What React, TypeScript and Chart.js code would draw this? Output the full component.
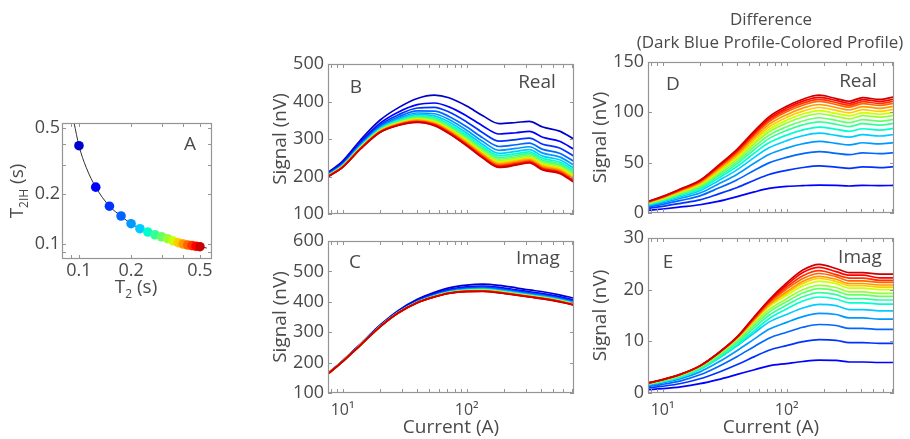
import React, { useEffect, useRef } from 'react';
import { Chart, registerables } from 'chart.js';
Chart.register(...registerables);

const W = 910;
const H = 439;
const FONT = '"Open Sans", "Liberation Sans", sans-serif';
const TEXT = '#4a4a4a';
const FRAME = '#959595';
const YTICK = 18;
const XTICK = 16;
const TITLE = 19;

// ---------- Panel A data ----------
const t2Points = [0.1, 0.125, 0.15, 0.175, 0.2, 0.225, 0.25, 0.275, 0.3, 0.325, 0.35, 0.375, 0.4, 0.425, 0.45, 0.475, 0.5];
const t2ihPoints = [0.391, 0.22, 0.169, 0.1475, 0.1325, 0.1236, 0.118, 0.1137, 0.1106, 0.1076, 0.1043, 0.1018, 0.1, 0.0986, 0.0977, 0.0969, 0.0963];
const t2Curve = [0.0936, 0.1, 0.11, 0.125, 0.15, 0.175, 0.2, 0.25, 0.3, 0.35, 0.4, 0.45, 0.5, 0.547];
const t2ihCurve = [0.54, 0.391, 0.29, 0.22, 0.169, 0.1475, 0.1325, 0.118, 0.1106, 0.1043, 0.1, 0.0977, 0.0963, 0.0946];
const t2TickLabels = [0.1, 0.2, 0.5];
const t2TickMarks = [0.09, 0.1, 0.2, 0.3, 0.4, 0.5];

// ---------- Panels B-E data ----------
const currents = [7.63, 10, 14, 20, 28, 40, 55, 72, 100, 135, 183, 250, 320, 410, 560, 733];
const currentTickLabels = [10, 100];
const currentTickMarks = [8, 9, 10, 20, 30, 40, 50, 60, 70, 80, 90, 100, 200, 300, 400, 500, 600, 700];

// dark blue profile (read from B and C)
const realDarkBlue = [211, 241, 298, 350, 383, 408, 417, 410, 388, 362, 341, 344, 347, 332, 321, 300];
const imagDarkBlue = [165, 206, 262, 323, 371, 408, 431, 446, 455, 458, 454, 446, 439, 433, 423, 412];

// Differences "dark blue profile - colored profile" (read from D), profiles ordered dark blue -> dark red
const realDiffs = [
  [0, 0, 0, 0, 0, 0, 0, 0, 0, 0, 0, 0, 0, 0, 0, 0],
  [2.6, 4.0, 6.0, 8.2, 11.5, 16.3, 21.0, 24.4, 26.4, 27.2, 27.7, 27.4, 26.8, 27.4, 27.2, 27.4],
  [4.6, 6.6, 9.6, 13.0, 18.8, 25.4, 32.6, 38.2, 42.4, 45.2, 46.8, 45.5, 44.4, 45.9, 45.1, 46.0],
  [6.0, 8.6, 12.5, 17.0, 24.5, 33.1, 42.5, 49.8, 55.3, 59.0, 61.0, 59.3, 57.9, 59.8, 58.9, 60.0],
  [7.0, 10.0, 14.6, 19.8, 28.6, 38.6, 49.6, 58.1, 64.5, 68.8, 71.2, 69.2, 67.6, 69.8, 68.7, 70.0],
  [7.8, 11.2, 16.3, 22.1, 31.9, 43.1, 55.3, 64.7, 71.9, 76.7, 79.3, 77.1, 75.3, 77.8, 76.5, 78.0],
  [8.4, 12.0, 17.6, 23.8, 34.4, 46.4, 59.6, 69.7, 77.4, 82.6, 85.4, 83.1, 81.1, 83.7, 82.4, 84.0],
  [8.9, 12.7, 18.6, 25.2, 36.4, 49.1, 63.1, 73.9, 82.1, 87.5, 90.5, 88.0, 85.9, 88.7, 87.3, 89.0],
  [9.3, 13.3, 19.4, 26.3, 38.0, 51.3, 65.9, 77.2, 85.7, 91.4, 94.6, 92.0, 89.7, 92.7, 91.2, 93.0],
  [9.7, 13.9, 20.3, 27.5, 39.7, 53.5, 68.8, 80.5, 89.4, 95.4, 98.6, 95.9, 93.6, 96.7, 95.2, 97.0],
  [10.0, 14.3, 20.9, 28.3, 40.9, 55.2, 70.9, 83.0, 92.2, 98.3, 101.7, 98.9, 96.5, 99.7, 98.1, 100.0],
  [10.3, 14.7, 21.5, 29.1, 42.1, 56.9, 73.0, 85.5, 95.0, 101.2, 104.8, 101.9, 99.4, 102.7, 101.0, 103.0],
  [10.6, 15.2, 22.2, 30.0, 43.4, 58.5, 75.2, 88.0, 97.7, 104.2, 107.8, 104.8, 102.3, 105.7, 104.0, 106.0],
  [10.9, 15.6, 22.8, 30.8, 44.6, 60.2, 77.3, 90.5, 100.5, 107.1, 110.9, 107.8, 105.2, 108.7, 106.9, 109.0],
  [11.1, 15.9, 23.2, 31.4, 45.4, 61.3, 78.7, 92.1, 102.3, 109.1, 112.9, 109.8, 107.1, 110.7, 108.9, 111.0],
  [11.3, 16.2, 23.6, 32.0, 46.2, 62.4, 80.1, 93.8, 104.2, 111.1, 114.9, 111.8, 109.0, 112.7, 110.9, 113.0],
  [11.5, 16.5, 24.0, 32.5, 47.0, 63.5, 81.5, 95.5, 106.0, 113.0, 117.0, 113.7, 111.0, 114.7, 112.8, 115.4],
];

// read from E
const imagDiffs = [
  [0, 0, 0, 0, 0, 0, 0, 0, 0, 0, 0, 0, 0, 0, 0, 0],
  [0.65, 0.85, 1.2, 1.8, 2.6, 3.6, 4.5, 5.25, 5.7, 6.1, 6.35, 6.3, 6.0, 6.0, 5.9, 5.9],
  [0.99, 1.31, 1.84, 2.75, 3.98, 5.53, 7.04, 8.28, 9.18, 9.93, 10.35, 10.2, 9.75, 9.75, 9.6, 9.6],
  [1.27, 1.67, 2.36, 3.52, 5.1, 7.08, 9.02, 10.61, 11.76, 12.72, 13.26, 13.07, 12.5, 12.5, 12.3, 12.3],
  [1.48, 1.94, 2.75, 4.09, 5.93, 8.24, 10.48, 12.34, 13.67, 14.79, 15.42, 15.2, 14.53, 14.53, 14.3, 14.3],
  [1.62, 2.16, 3.05, 4.55, 6.6, 9.16, 11.65, 13.72, 15.2, 16.44, 17.14, 16.9, 16.15, 16.15, 15.9, 15.9],
  [1.67, 2.2, 3.11, 4.58, 6.67, 9.32, 12.09, 14.38, 16.27, 17.8, 18.58, 18.2, 17.46, 17.46, 17.2, 17.2],
  [1.72, 2.3, 3.26, 4.79, 6.98, 9.76, 12.65, 15.05, 17.03, 18.63, 19.44, 19.04, 18.27, 18.27, 18.0, 18.0],
  [1.76, 2.39, 3.38, 4.97, 7.26, 10.14, 13.15, 15.63, 17.69, 19.35, 20.2, 19.78, 18.98, 18.98, 18.7, 18.7],
  [1.8, 2.47, 3.49, 5.13, 7.49, 10.46, 13.57, 16.13, 18.26, 19.98, 20.84, 20.42, 19.59, 19.59, 19.3, 19.3],
  [1.84, 2.5, 3.55, 5.2, 7.6, 10.6, 14.0, 16.7, 18.9, 20.7, 21.6, 21.16, 20.3, 20.3, 20.0, 20.0],
  [1.86, 2.52, 3.57, 5.22, 7.62, 10.65, 14.1, 16.9, 19.3, 21.22, 22.16, 21.59, 20.79, 20.79, 20.5, 20.5],
  [1.88, 2.54, 3.59, 5.24, 7.64, 10.7, 14.2, 17.1, 19.6, 21.63, 22.59, 22.01, 21.19, 21.19, 20.9, 20.9],
  [1.9, 2.56, 3.61, 5.24, 7.66, 10.75, 14.4, 17.4, 20.1, 22.15, 23.13, 22.53, 21.7, 21.7, 21.4, 21.4],
  [1.91, 2.57, 3.62, 5.24, 7.68, 10.8, 14.55, 17.6, 20.5, 22.7, 23.7, 22.9, 22.25, 22.25, 21.8, 21.8],
  [1.92, 2.58, 3.63, 5.25, 7.69, 10.85, 14.7, 17.8, 20.9, 23.3, 24.3, 23.5, 22.8, 22.8, 22.3, 22.3],
  [1.94, 2.6, 3.65, 5.25, 7.7, 10.9, 14.8, 18.0, 21.3, 23.8, 24.9, 24.1, 23.3, 23.3, 23.0, 23.0],
];

// jet colormap, 17 steps (dark blue -> dark red)
const jetColors = [
  'rgb(0,0,204)', 'rgb(0,0,255)', 'rgb(0,51,255)', 'rgb(0,102,255)', 'rgb(0,153,255)', 'rgb(0,204,255)',
  'rgb(0,255,204)', 'rgb(51,255,153)', 'rgb(102,255,102)', 'rgb(153,255,51)', 'rgb(204,255,0)',
  'rgb(255,204,0)', 'rgb(255,153,0)', 'rgb(255,102,0)', 'rgb(255,51,0)', 'rgb(255,0,0)', 'rgb(204,0,0)',
];

type Box = { l: number; r: number; t: number; b: number };
const boxA: Box = { l: 62, r: 212, t: 123, b: 259 };
const boxB: Box = { l: 328, r: 574, t: 64, b: 214 };
const boxC: Box = { l: 328, r: 574, t: 241, b: 393 };
const boxD: Box = { l: 648, r: 894, t: 62, b: 213 };
const boxE: Box = { l: 648, r: 894, t: 238, b: 393 };
const Y_W = 60;

const font = (size: number) => ({ family: FONT, size, weight: 'normal' as const });

function padFor(box: Box, yW: number, xH: number) {
  return { left: box.l - yW, right: W - box.r, top: box.t, bottom: H - box.b - xH };
}

function frameTicks(xMarks: number[], yMarks: number[], len = 4) {
  return {
    id: 'frameTicks',
    afterDatasetsDraw(chart: any) {
      const { ctx, chartArea: a, scales } = chart;
      ctx.save();
      ctx.strokeStyle = FRAME;
      ctx.lineWidth = 1;
      ctx.beginPath();
      for (const v of xMarks) {
        const p = Math.round(scales.x.getPixelForValue(v)) + 0.5;
        if (p < a.left || p > a.right) continue;
        ctx.moveTo(p, a.bottom); ctx.lineTo(p, a.bottom - len);
        ctx.moveTo(p, a.top); ctx.lineTo(p, a.top + len);
      }
      for (const v of yMarks) {
        const p = Math.round(scales.y.getPixelForValue(v)) + 0.5;
        if (p < a.top - 1 || p > a.bottom + 1) continue;
        ctx.moveTo(a.left, p); ctx.lineTo(a.left + len, p);
        ctx.moveTo(a.right, p); ctx.lineTo(a.right - len, p);
      }
      ctx.stroke();
      ctx.lineWidth = 1.2;
      ctx.strokeRect(a.left + 0.5, a.top + 0.5, a.right - a.left - 1, a.bottom - a.top - 1);
      ctx.restore();
    },
  };
}

type Label = { text: string; dx: number; dy: number; from: 'left' | 'right' | 'center'; size?: number; align?: CanvasTextAlign };
function panelText(labels: Label[]) {
  return {
    id: 'panelText',
    afterDraw(chart: any) {
      const { ctx, chartArea: a } = chart;
      ctx.save();
      ctx.fillStyle = TEXT;
      ctx.textBaseline = 'middle';
      for (const lb of labels) {
        ctx.font = `${lb.size ?? TITLE}px ${FONT}`;
        ctx.textAlign = lb.align ?? 'center';
        const x0 = lb.from === 'left' ? a.left : lb.from === 'right' ? a.right : (a.left + a.right) / 2;
        ctx.fillText(lb.text, x0 + lb.dx, a.top + lb.dy);
      }
      ctx.restore();
    },
  };
}

function signalAxis(min: number, max: number, step: number, box: Box, titleX: number) {
  const lh = TITLE * 1.2;
  return {
    type: 'linear',
    min, max,
    ticks: { stepSize: step, font: font(YTICK), color: TEXT, padding: 4 },
    grid: { display: false, drawTicks: false },
    border: { display: false },
    title: { display: true, text: 'Signal (nV)', font: font(TITLE), color: TEXT, padding: { top: titleX - (box.l - Y_W) - lh / 2, bottom: 0 } },
    afterFit: (s: any) => { s.width = Y_W; },
  };
}

function currentAxis(labeled: boolean) {
  if (!labeled) {
    return { type: 'logarithmic', min: currents[0], max: currents[currents.length - 1], display: false };
  }
  return {
    type: 'logarithmic',
    min: currents[0], max: currents[currents.length - 1],
    afterBuildTicks: (s: any) => { s.ticks = currentTickLabels.map((v) => ({ value: v })); },
    ticks: { callback: (v: number) => (v === 10 ? '10¹' : '10²'), font: font(XTICK), color: TEXT, padding: 8, maxRotation: 0, autoSkip: false },
    grid: { display: false, drawTicks: false },
    border: { display: false },
    title: { display: true, text: 'Current (A)', font: font(TITLE), color: TEXT, padding: { top: 0, bottom: 0 } },
    afterFit: (s: any) => { s.height = 46; },
  };
}

function lineSets(rows: number[][]) {
  return rows.map((vals, k) => ({
    data: currents.map((x, i) => ({ x, y: vals[i] })),
    borderColor: jetColors[k],
    backgroundColor: jetColors[k],
    borderWidth: 1.7,
    pointRadius: 0,
    showLine: true,
    cubicInterpolationMode: 'monotone',
    order: rows.length - 1 - k,
  }));
}

const realProfiles = realDiffs.map((d) => realDarkBlue.map((v, i) => v - d[i]));
const imagProfiles = imagDiffs.map((d) => imagDarkBlue.map((v, i) => v - d[i]));

const common = {
  responsive: false,
  animation: false,
  devicePixelRatio: 1,
  events: [],
};

function signalPanel(box: Box, rows: number[][], yMin: number, yMax: number, step: number, titleX: number, labeled: boolean, labels: Label[], extra: Label[] = []) {
  const yMarks: number[] = [];
  for (let v = yMin; v <= yMax; v += step) yMarks.push(v);
  return {
    type: 'scatter',
    data: { datasets: lineSets(rows) },
    options: {
      ...common,
      layout: { padding: padFor(box, Y_W, labeled ? 46 : 0) },
      plugins: { legend: { display: false }, tooltip: { enabled: false } },
      scales: { x: currentAxis(labeled), y: signalAxis(yMin, yMax, step, box, titleX) },
    },
    plugins: [frameTicks(currentTickMarks, yMarks), panelText([...labels, ...extra])],
  };
}

function drawSubText(ctx: CanvasRenderingContext2D, parts: [string, boolean][], size: number) {
  const sub = Math.round(size * 0.62);
  let total = 0;
  const widths = parts.map(([t, s]) => {
    ctx.font = `${s ? sub : size}px ${FONT}`;
    const w = ctx.measureText(t).width;
    total += w;
    return w;
  });
  let x = -total / 2;
  parts.forEach(([t, s], i) => {
    ctx.font = `${s ? sub : size}px ${FONT}`;
    ctx.fillText(t, x, s ? size * 0.32 : 0);
    x += widths[i];
  });
}

function panelAConfig() {
  return {
    type: 'scatter',
    data: {
      datasets: [
        {
          data: t2Points.map((x, i) => ({ x, y: t2ihPoints[i] })),
          pointBackgroundColor: jetColors,
          pointBorderWidth: 0,
          pointRadius: 4.8,
          showLine: false,
          order: 0,
        },
        {
          data: t2Curve.map((x, i) => ({ x, y: t2ihCurve[i] })),
          borderColor: '#303030',
          borderWidth: 1,
          pointRadius: 0,
          showLine: true,
          cubicInterpolationMode: 'monotone',
          order: 1,
        },
      ],
    },
    options: {
      ...common,
      layout: { padding: padFor(boxA, Y_W, 30) },
      plugins: { legend: { display: false }, tooltip: { enabled: false } },
      scales: {
        x: {
          type: 'logarithmic', min: 0.0798, max: 0.587,
          afterBuildTicks: (s: any) => { s.ticks = t2TickLabels.map((v) => ({ value: v })); },
          ticks: { callback: (v: number) => String(v), font: font(YTICK), color: TEXT, padding: 1, maxRotation: 0, autoSkip: false },
          grid: { display: false, drawTicks: false },
          border: { display: false },
          afterFit: (s: any) => { s.height = 30; },
        },
        y: {
          type: 'logarithmic', min: 0.0812, max: 0.536,
          afterBuildTicks: (s: any) => { s.ticks = t2TickLabels.map((v) => ({ value: v })); },
          ticks: { callback: (v: number) => String(v), font: font(YTICK), color: TEXT, padding: 2, autoSkip: false },
          grid: { display: false, drawTicks: false },
          border: { display: false },
          afterFit: (s: any) => { s.width = Y_W; },
        },
      },
    },
    plugins: [
      frameTicks(t2TickMarks, t2TickMarks),
      panelText([{ text: 'A', dx: -22, dy: 22, from: 'right' }]),
      {
        id: 'aTitles',
        afterDraw(chart: any) {
          const { ctx, chartArea: a } = chart;
          ctx.save();
          ctx.fillStyle = TEXT;
          ctx.textBaseline = 'middle';
          ctx.textAlign = 'left';
          ctx.save();
          ctx.translate((a.left + a.right) / 2 - 1, a.bottom + 29);
          drawSubText(ctx, [['T', false], ['2', true], [' (s)', false]], TITLE);
          ctx.restore();
          ctx.save();
          ctx.translate(a.left - 44, (a.top + a.bottom) / 2);
          ctx.rotate(-Math.PI / 2);
          drawSubText(ctx, [['T', false], ['2IH', true], [' (s)', false]], TITLE);
          ctx.restore();
          ctx.restore();
        },
      },
    ],
  };
}

function buildConfigs(): any[] {
  return [
    panelAConfig(),
    signalPanel(boxB, realProfiles, 100, 500, 100, 281, false, [
      { text: 'B', dx: 28, dy: 24, from: 'left' },
      { text: 'Real', dx: -37, dy: 19, from: 'right' },
    ]),
    signalPanel(boxC, imagProfiles, 100, 600, 100, 281, true, [
      { text: 'C', dx: 27, dy: 22, from: 'left' },
      { text: 'Imag', dx: -36, dy: 18, from: 'right' },
    ]),
    signalPanel(boxD, realDiffs, 0, 150, 50, 601, false, [
      { text: 'D', dx: 25, dy: 23, from: 'left' },
      { text: 'Real', dx: -36, dy: 20, from: 'right' },
    ], [
      { text: 'Difference', dx: 0, dy: -42, from: 'center', size: 17 },
      { text: '(Dark Blue Profile-Colored Profile)', dx: -1, dy: -19, from: 'center', size: 17 },
    ]),
    signalPanel(boxE, imagDiffs, 0, 30, 10, 601, true, [
      { text: 'E', dx: 20, dy: 25, from: 'left' },
      { text: 'Imag', dx: -34, dy: 20, from: 'right' },
    ]),
  ];
}

export default function App() {
  const r0 = useRef<HTMLCanvasElement>(null);
  const r1 = useRef<HTMLCanvasElement>(null);
  const r2 = useRef<HTMLCanvasElement>(null);
  const r3 = useRef<HTMLCanvasElement>(null);
  const r4 = useRef<HTMLCanvasElement>(null);
  const refs = [r0, r1, r2, r3, r4];

  useEffect(() => {
    const cfgs = buildConfigs();
    const charts = cfgs.map((cfg, i) => new Chart(refs[i].current as HTMLCanvasElement, cfg));
    return () => charts.forEach((c) => c.destroy());
  }, []);

  return (
    <div style={{ position: 'fixed', left: 0, top: 0, width: W, height: H, background: '#ffffff' }}>
      {refs.map((r, i) => (
        <canvas key={i} ref={r} width={W} height={H} style={{ position: 'absolute', left: 0, top: 0, width: W, height: H }} />
      ))}
    </div>
  );
}
